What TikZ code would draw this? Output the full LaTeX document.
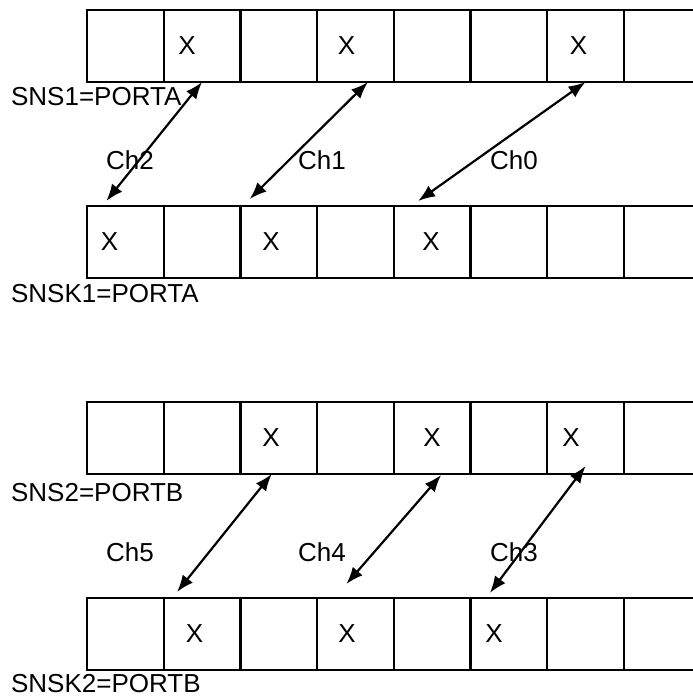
\documentclass[tikz,border=0pt]{standalone}
\usepackage{fontspec}
\setmainfont{Liberation Sans}
\usetikzlibrary{arrows.meta}

\begin{document}
\begin{tikzpicture}[x=1pt,y=1pt,>={Latex[length=17pt,width=13pt]},line width=2.2pt,
  cell/.style={draw,minimum width=76.7pt,minimum height=72pt,inner sep=0pt,outer sep=0pt},
  txt/.style={inner sep=0pt,font=\fontsize{26}{30}\selectfont},
  lbl/.style={txt,anchor=base west}]
\useasboundingbox (0,0) rectangle (693,696);
% the four rows of cells
\foreach \i in {0,...,7} {
  \node[cell] (a\i) at (125.35+76.7*\i,650) {};
  \node[cell] (b\i) at (125.35+76.7*\i,454) {};
  \node[cell] (c\i) at (125.35+76.7*\i,258) {};
  \node[cell] (d\i) at (125.35+76.7*\i,62) {};
}
% marks
\node[txt] (xa1) at (187,650) {X};
\node[txt] (xa3) at (346.5,650) {X};
\node[txt] (xa6) at (578.5,650) {X};
\node[txt] (xb0) at (109.5,454) {X};
\node[txt] (xb2) at (271,454) {X};
\node[txt] (xb4) at (431,454) {X};
\node[txt] (xc2) at (271,258) {X};
\node[txt] (xc4) at (432,258) {X};
\node[txt] (xc6) at (571,258) {X};
\node[txt] (xd1) at (194.5,62) {X};
\node[txt] (xd3) at (347,62) {X};
\node[txt] (xd5) at (494,62) {X};
% port labels
\node[lbl] (sns1) at (10,590) {SNS1=PORTA};
\node[lbl] (snsk1) at (10,393.3) {SNSK1=PORTA};
\node[lbl] (sns2) at (10,194.3) {SNS2=PORTB};
\node[lbl] (snsk2) at (10,4) {SNSK2=PORTB};
% channels
\node[lbl] (ch2) at (105,526.7) {Ch2};
\node[lbl] (ch1) at (297,526.7) {Ch1};
\node[lbl] (ch0) at (489,526.7) {Ch0};
\node[lbl] (ch5) at (105,134.3) {Ch5};
\node[lbl] (ch4) at (297,134.3) {Ch4};
\node[lbl] (ch3) at (489,134.3) {Ch3};
\draw[<->] (a1.south) -- ([xshift=-19pt,yshift=5pt]b0.north);
\draw[<->] ([xshift=12.5pt]a3.south) -- ([xshift=-29pt,yshift=7pt]b2.north);
\draw[<->] (a6.south) -- ([xshift=-14pt,yshift=5pt]b4.north);
\draw[<->] ([xshift=-7pt]c2.south) -- ([xshift=-25pt,yshift=6pt]d1.north);
\draw[<->] ([xshift=9pt,yshift=-1pt]c4.south) -- ([xshift=-9pt,yshift=14pt]d3.north);
\draw[<->] ([yshift=8pt]c6.south) -- ([xshift=-19pt,yshift=5pt]d5.north);
\end{tikzpicture}
\end{document}
